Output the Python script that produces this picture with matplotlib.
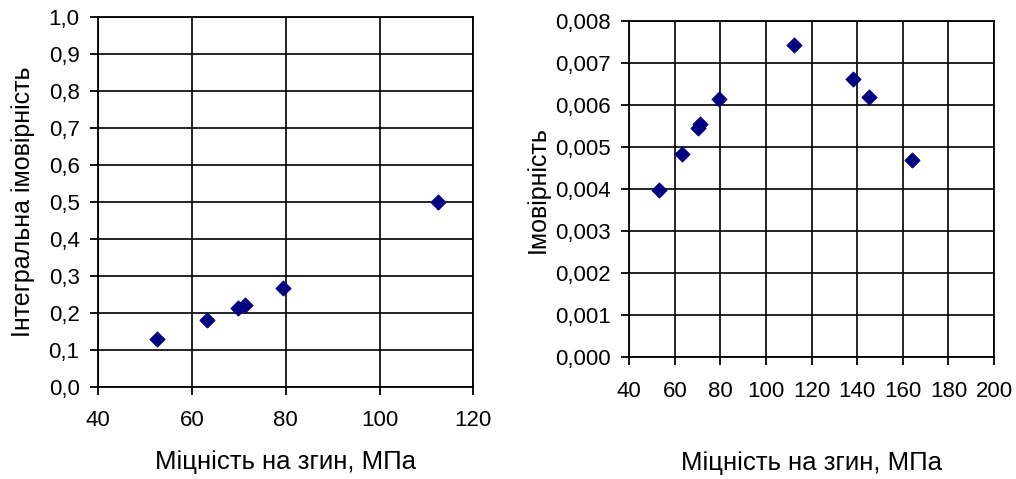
import matplotlib
matplotlib.use("Agg")
import matplotlib.pyplot as plt
from matplotlib.ticker import FuncFormatter, MultipleLocator

plt.rcParams['font.family'] = ['Liberation Sans', 'DejaVu Sans']

# Cumulative probability vs bending strength
strength_cum = [52.6, 63.1, 69.9, 71.4, 79.5, 112.5]
prob_cum = [0.13, 0.18, 0.214, 0.22, 0.268, 0.50]

# Probability density vs bending strength
strength_pdf = [52.9, 63.3, 70.1, 71.2, 79.5, 112.4, 138.0, 145.3, 164.0]
prob_pdf = [0.00398, 0.00485, 0.00547, 0.00556, 0.00616, 0.00743, 0.00663, 0.00620, 0.00471]

xlabel = "Міцність на згин, МПа"
ylabel_left = "Інтегральна імовірність"
ylabel_right = "Імовірність"

marker_color = "#000080"

fig = plt.figure(figsize=(10.16, 4.79), dpi=100)
ax1 = fig.add_axes([0.0968, 0.1927, 0.369, 0.7724])
ax2 = fig.add_axes([0.6194, 0.254, 0.359, 0.7015])


def comma_fmt(decimals):
    return FuncFormatter(lambda v, p: f"{v:.{decimals}f}".replace(".", ","))


def style(ax):
    ax.grid(True, color="black", linewidth=1.2)
    ax.set_axisbelow(True)
    for s in ax.spines.values():
        s.set_color("black")
        s.set_linewidth(1.3)
    ax.tick_params(direction="out", length=6, width=1.3, labelsize=16)
    ax.tick_params(axis="y", pad=7.5)
    ax.tick_params(axis="x", pad=11)


ax1.scatter(strength_cum, prob_cum, marker="D", s=55, color=marker_color, zorder=3)
ax1.set_xlim(40, 120)
ax1.set_ylim(0, 1.0)
ax1.xaxis.set_major_locator(MultipleLocator(20))
ax1.yaxis.set_major_locator(MultipleLocator(0.1))
ax1.yaxis.set_major_formatter(comma_fmt(1))
style(ax1)
ax1.set_xlabel(xlabel, fontsize=18.5)
ax1.set_ylabel(ylabel_left, fontsize=18)
ax1.xaxis.set_label_coords(0.5, -0.17)
ax1.yaxis.set_label_coords(-0.169, 0.5)

ax2.scatter(strength_pdf, prob_pdf, marker="D", s=55, color=marker_color, zorder=3)
ax2.set_xlim(40, 200)
ax2.set_ylim(0, 0.008)
ax2.xaxis.set_major_locator(MultipleLocator(20))
ax2.yaxis.set_major_locator(MultipleLocator(0.001))
ax2.yaxis.set_major_formatter(comma_fmt(3))
style(ax2)
ax2.set_xlabel(xlabel, fontsize=18.5)
ax2.set_ylabel(ylabel_right, fontsize=18)
ax2.xaxis.set_label_coords(0.5, -0.28)
ax2.yaxis.set_label_coords(-0.2175, 0.5)

fig.savefig("out.png", dpi=100)
